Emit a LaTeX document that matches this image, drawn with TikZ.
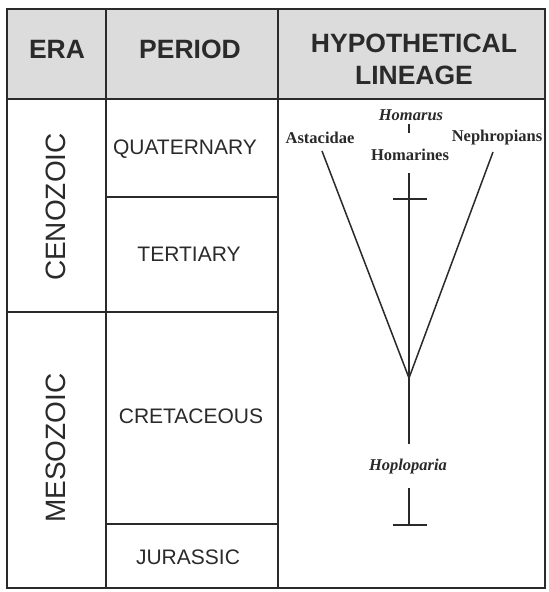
\documentclass[tikz,border=0pt]{standalone}
\usepackage{fontspec}
\setmainfont{Liberation Serif}
\setsansfont{Liberation Sans}
\definecolor{hdr}{HTML}{DCDCDC}
\definecolor{ink}{HTML}{2A2A2A}
\begin{document}
\begin{tikzpicture}[x=1pt,y=-1pt,
  grid/.style={draw=ink,line width=2.6pt},
  hdrtext/.style={font=\sffamily\bfseries\fontsize{26.5}{32}\selectfont,text=ink,align=center,inner sep=0pt},
  eratext/.style={font=\sffamily\fontsize{28}{30}\selectfont,text=ink,rotate=90,inner sep=0pt},
  pertext/.style={font=\sffamily\fontsize{21}{23}\selectfont,text=ink,inner sep=0pt},
  taxon/.style={font=\rmfamily\bfseries\fontsize{16.5}{18}\selectfont,text=ink,inner sep=0pt},
  taxonit/.style={font=\rmfamily\bfseries\itshape\fontsize{16.5}{18}\selectfont,text=ink,inner sep=0pt},
  lin/.style={draw=ink,line width=1.5pt}]
\useasboundingbox (0,0) rectangle (549,592);
\fill[white] (0,0) rectangle (549,592);
% header
\fill[hdr] (7,9) rectangle (545,99);
% grid
\draw[grid] (7,9) rectangle (545,588);
\draw[grid] (7,99) -- (545,99);
\draw[grid] (106,9) -- (106,588);
\draw[grid] (278,9) -- (278,588);
\draw[grid] (7,312) -- (278,312);
\draw[grid] (106,197) -- (278,197);
\draw[grid] (106,524) -- (278,524);
% header text
\node[hdrtext] (hera) at (57,49) {ERA};
\node[hdrtext] (hper) at (190,49) {PERIOD};
\node[hdrtext] (hlin) at (414,59) {HYPOTHETICAL\\LINEAGE};
% eras
\node[eratext] (ceno) at (56,207) {CENOZOIC};
\node[eratext] (meso) at (56,448) {MESOZOIC};
% periods
\node[pertext] (quat) at (185,149) {QUATERNARY};
\node[pertext] (tert) at (189,254) {TERTIARY};
\node[pertext] (cret) at (191,416) {CRETACEOUS};
\node[pertext] (jura) at (188,557) {JURASSIC};
% taxa
\node[taxonit] (homarus) at (411,115) {Homarus};
\node[taxon] (homarines) at (410,155) {Homarines};
\node[taxon] (asta) at (320,138) {Astacidae};
\node[taxon] (neph) at (497,138) {Nephropians};
\node[taxonit] (hoplo) at (408,467) {Hoploparia};
% lineage
\coordinate (J) at (409,378);
\coordinate (Lt) at (322,151);
\coordinate (Rt) at (493,152);
\coordinate (Ct) at (409,173);
\coordinate (Cb) at (409,444);
\coordinate (Dt) at (409,488);
\coordinate (Db) at (409,525);
\coordinate (Ht) at (409,124);
\coordinate (Hb) at (409,133);
\draw[lin] (Lt) -- (J);
\draw[lin] (Rt) -- (J);
\draw[lin] (Ct) -- (Cb);
\draw[lin] (Dt) -- (Db);
\draw[lin] (Ht) -- (Hb);
\draw[lin] ([xshift=-16pt]409,199) -- ([xshift=18pt]409,199);
\draw[lin] ([xshift=-16pt]Db) -- ([xshift=18pt]Db);
\end{tikzpicture}
\end{document}
